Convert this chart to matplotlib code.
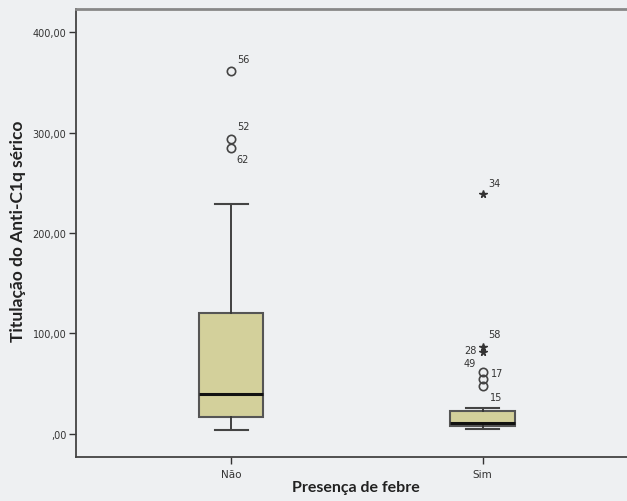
import matplotlib
matplotlib.use('Agg')
import matplotlib.pyplot as plt
from matplotlib.ticker import FuncFormatter

### Data
groups = ['Não', 'Sim']
q1 = [17, 8]
median = [40, 11]
q3 = [120, 23]
whislo = [4, 5]
whishi = [229, 26]

### Outliers: (group index, value, case label, marker)
out_group = [1, 1, 1, 2, 2, 2, 2, 2, 2]
out_value = [361, 294, 285, 239, 87, 82, 62, 55, 48]
out_label = ['56', '52', '62', '34', '58', '28', '49', '17', '15']
out_marker = ['o', 'o', 'o', '*', '*', '*', 'o', 'o', 'o']
# label offsets in points (dx, dy), text is centred vertically on the offset
out_offset = [(4, 9), (4, 9), (4, -8), (4, 8), (4, 9), (-13, 1), (-14, 6), (6, 4), (5, -8)]

yticks = [0, 100, 200, 300, 400]

bg = '#eef0f2'
fig = plt.figure(figsize=(6.27, 5.02), dpi=100, facecolor=bg)
ax = fig.add_axes([76 / 627, 44 / 502, 1 - 76 / 627 + 0.01, 448 / 502])
ax.set_facecolor(bg)

stats = []
for i in range(len(groups)):
    stats.append({'q1': q1[i], 'med': median[i], 'q3': q3[i],
                  'whislo': whislo[i], 'whishi': whishi[i], 'fliers': []})

ax.bxp(stats, positions=[1, 2], widths=0.255, patch_artist=True, showfliers=False,
       boxprops=dict(facecolor='#d3d09b', edgecolor='#555555', linewidth=1.5),
       medianprops=dict(color='#111111', linewidth=2.2),
       whiskerprops=dict(color='#333333', linewidth=1.3),
       capprops=dict(color='#444444', linewidth=1.5),
       capwidths=0.13)

for g, v, lab, m, off in zip(out_group, out_value, out_label, out_marker, out_offset):
    if m == 'o':
        ax.plot(g, v, marker='o', markersize=6, markerfacecolor='none',
                markeredgecolor='#444444', markeredgewidth=1.2, linestyle='none')
    else:
        ax.plot(g, v, marker='*', markersize=5.5, color='#333333', linestyle='none')
    ax.annotate(lab, (g, v), xytext=off, textcoords='offset points',
                fontsize=7, color='#333333', va='center')

ax.set_xlim(0.382, 2.60)
ax.set_ylim(-23, 423)
ax.set_xticks([1, 2])
ax.set_xticklabels(groups, fontsize=7.5, color='#333333')
ax.set_yticks(yticks)
ax.yaxis.set_major_formatter(FuncFormatter(lambda v, p: ',00' if v == 0 else '%d,00' % v))
ax.tick_params(axis='y', labelsize=7, colors='#333333', length=5, width=1, pad=2)
ax.tick_params(axis='x', length=5, width=1, colors='#333333')

for s in ['left', 'bottom']:
    ax.spines[s].set_color('#444444')
    ax.spines[s].set_linewidth(1.3)
ax.spines['top'].set_color('#888888')
ax.spines['top'].set_linewidth(2)
ax.spines['right'].set_visible(False)

ax.set_xlabel('Presença de febre', fontsize=11.5, fontweight='bold', family='Lato', color='#222222')
ax.set_ylabel('Titulação do Anti-C1q sérico', fontsize=12.5, fontweight='bold', family='Lato', color='#222222')
ax.xaxis.set_label_coords(0.502, -0.052)
ax.yaxis.set_label_coords(-0.09, 0.505)

fig.savefig('out.png', dpi=100, facecolor=bg)
